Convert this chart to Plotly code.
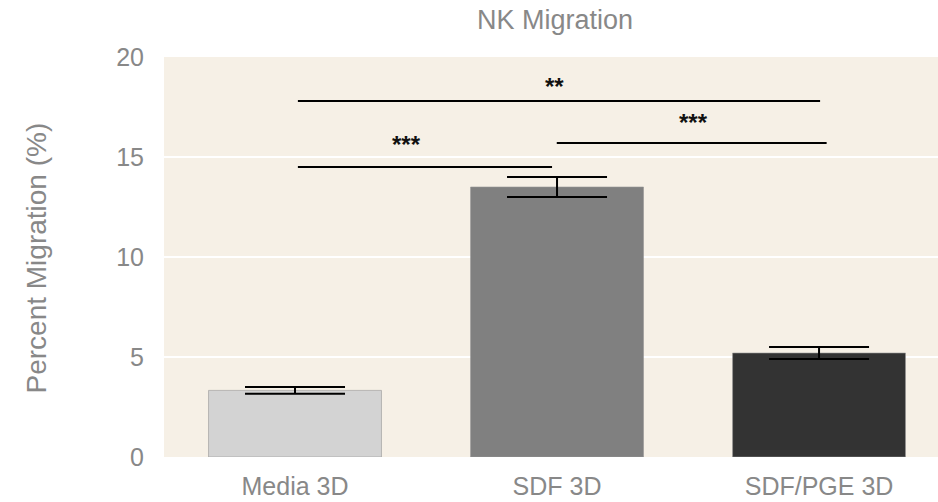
import plotly.graph_objects as go

# Migration data
categories = ["Media 3D", "SDF 3D", "SDF/PGE 3D"]
migration = [3.33, 13.5, 5.2]
migration_err = [0.17, 0.5, 0.3]
bar_colors = ["#d3d3d3", "#808080", "#333333"]

# Significance brackets: start category position, end position, height, label position, label
bracket_x0 = [0.011, 0.011, 0.999]
bracket_x1 = [0.981, 2.004, 2.029]
bracket_y = [14.5, 17.8, 15.7]
label_x = [0.427, 0.989, 1.519]
label_y = [15.65, 18.55, 16.75]
labels = ["***", "**", "***"]

FONT = "Arial, Liberation Sans, sans-serif"
TEXT_GREY = "#888888"

fig = go.Figure()
fig.add_trace(go.Bar(
    x=[0, 1, 2],
    y=migration,
    width=0.66,
    marker=dict(color=bar_colors, line=dict(color="rgba(150,150,150,0.6)", width=1)),
    error_y=dict(type="data", array=migration_err, visible=True,
                 color="black", thickness=2, width=50),
    showlegend=False,
))

for x0, x1, y in zip(bracket_x0, bracket_x1, bracket_y):
    fig.add_shape(type="line", xref="x", yref="y", x0=x0, x1=x1, y0=y, y1=y,
                  line=dict(color="black", width=2))

for x, y, t in zip(label_x, label_y, labels):
    fig.add_annotation(x=x, y=y, xref="x", yref="y", text="<b>" + t + "</b>",
                       showarrow=False,
                       font=dict(family=FONT, size=24, color="#111111"),
                       xanchor="center", yanchor="middle")

fig.update_layout(
    width=938, height=502,
    margin=dict(l=164, r=0, t=57, b=45, pad=0),
    paper_bgcolor="white",
    plot_bgcolor="#f6f0e6",
    font=dict(family=FONT, color=TEXT_GREY),
    title=dict(text="NK Migration", x=555 / 938, xref="container", xanchor="center",
               y=1 - 20 / 502, yref="container", yanchor="middle",
               font=dict(family=FONT, size=27, color=TEXT_GREY)),
    xaxis=dict(range=[-0.5, 2.454], tickvals=[0, 1, 2], ticktext=categories,
               showgrid=False, zeroline=False, showline=False,
               ticks="outside", ticklen=7, tickcolor="rgba(0,0,0,0)",
               tickfont=dict(family=FONT, size=25, color=TEXT_GREY)),
    yaxis=dict(range=[0, 20], tickvals=[0, 5, 10, 15, 20],
               showgrid=True, gridcolor="white", gridwidth=2,
               zeroline=False, showline=False,
               ticks="outside", ticklen=14, tickcolor="rgba(0,0,0,0)",
               tickfont=dict(family=FONT, size=25, color=TEXT_GREY)),
)

# Rotated y-axis title placed in paper coordinates
fig.add_annotation(x=(36 - 164) / 774, y=0.5 - (258.5 - 257) / 400,
                   xref="paper", yref="paper", xanchor="center", yanchor="middle",
                   text="Percent Migration (%)", textangle=-90, showarrow=False,
                   font=dict(family=FONT, size=28, color=TEXT_GREY))

fig.write_html("out.html")
